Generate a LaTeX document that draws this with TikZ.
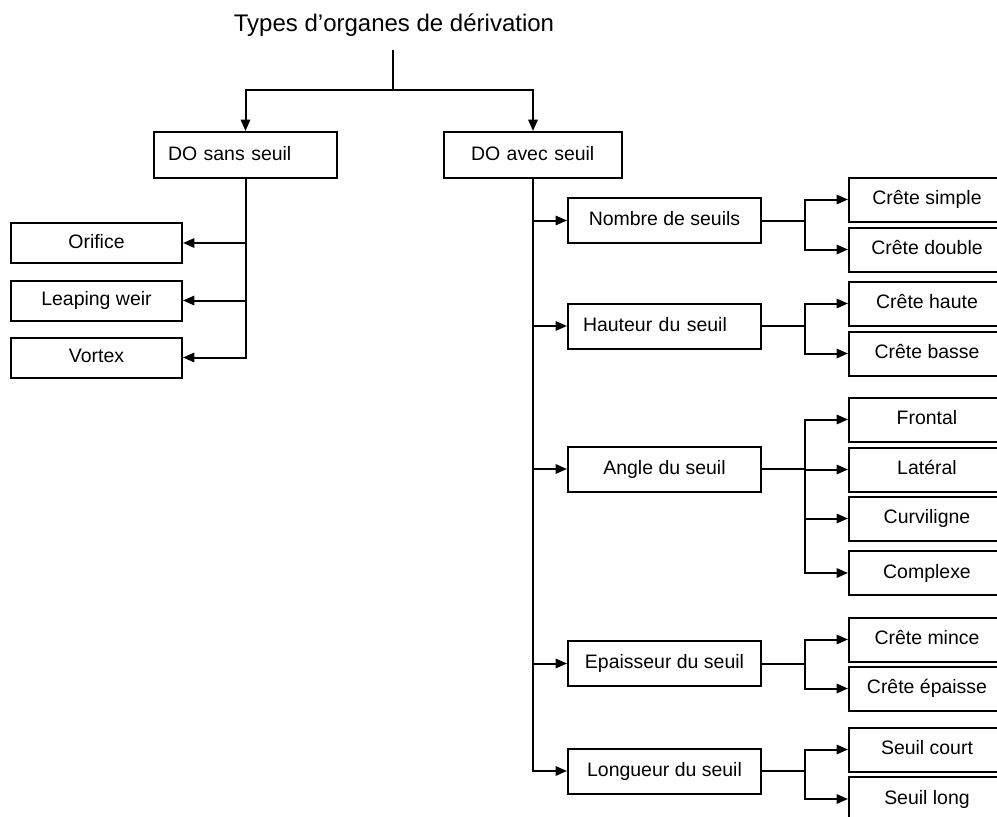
\documentclass[tikz,border=0pt]{standalone}
\usepackage{fontspec}
\setmainfont{Liberation Sans}
\usetikzlibrary{arrows.meta}
\begin{document}
\begin{tikzpicture}[x=0.75pt,y=-0.75pt,
  line width=1.5pt,
  bx/.style 2 args={draw, line width=1.5pt, inner sep=0pt,
    minimum width=#1*0.75pt, minimum height=#2*0.75pt,
    font=\fontsize{14.6pt}{17pt}\selectfont,
    text height=10.5pt, text depth=2.6pt},
  lbx/.style n args={3}{bx={#1}{#2}, inner xsep=#3*0.75pt,
    text width={(#1-2*#3)*0.75pt}, align=left},
  arr/.style={-{Triangle[length=8.5pt,width=7pt]}}]
\useasboundingbox (0,0) rectangle (997,817);

\node[font=\fontsize{18pt}{21pt}\selectfont, anchor=base] (title) at (394,31.7) {Types d’organes de dérivation};
\coordinate (t0) at (393,50);
\coordinate (t1) at (393,90);

\node[lbx={183}{46}{14}] (dosans) at (245.5,155) {DO sans seuil};
\node[lbx={178}{46}{27}] (doavec) at (533,155) {DO avec seuil};

\node[bx={171}{40}] (orifice) at (96.5,243) {Orifice};
\node[bx={171}{40}] (leaping) at (96.5,300.5) {Leaping weir};
\node[bx={171}{40}] (vortex) at (96.5,357.5) {Vortex};

\node[bx={193}{45}] (nombre) at (664.5,220.5) {Nombre de seuils};
\node[lbx={193}{45}{15}] (hauteur) at (664.5,326) {Hauteur du seuil};
\node[bx={193}{45}] (angle) at (664.5,469) {Angle du seuil};
\node[bx={193}{45}] (epais) at (664.5,663.5) {Epaisseur du seuil};
\node[bx={193}{45}] (longueur) at (664.5,771) {Longueur du seuil};

\node[bx={156}{44}] (simple) at (927,199.5) {Crête simple};
\node[bx={156}{44}] (double) at (927,249.5) {Crête double};
\node[bx={156}{44}] (haute) at (927,303.5) {Crête haute};
\node[bx={156}{44}] (basse) at (927,353.5) {Crête basse};
\node[bx={156}{44}] (frontal) at (927,419.5) {Frontal};
\node[bx={156}{44}] (lateral) at (927,469.5) {Latéral};
\node[bx={156}{44}] (curv) at (927,518.5) {Curviligne};
\node[bx={156}{44}] (complexe) at (927,573) {Complexe};
\node[bx={156}{44}] (mince) at (927,639.5) {Crête mince};
\node[bx={156}{44}] (epaisse) at (927,688.5) {Crête épaisse};
\node[bx={156}{44}] (court) at (927,749.5) {Seuil court};
\node[bx={156}{44}] (long) at (927,799) {Seuil long};

\draw (t0) -- (t1);
\draw[arr] (t1) -| (dosans.north);
\draw[arr] (t1) -| (doavec.north);

\draw[arr] (dosans.south) |- (orifice.east);
\draw[arr] (dosans.south) |- (leaping.east);
\draw[arr] (dosans.south) |- (vortex.east);

\draw[arr] (doavec.south) |- (nombre.west);
\draw[arr] (doavec.south) |- (hauteur.west);
\draw[arr] (doavec.south) |- (angle.west);
\draw[arr] (doavec.south) |- (epais.west);
\draw[arr] (doavec.south) |- (longueur.west);

\draw[arr] (nombre.east) -- ++(43,0) |- (simple.west);
\draw[arr] (nombre.east) -- ++(43,0) |- (double.west);
\draw[arr] (hauteur.east) -- ++(43,0) |- (haute.west);
\draw[arr] (hauteur.east) -- ++(43,0) |- (basse.west);
\draw[arr] (angle.east) -- ++(43,0) |- (frontal.west);
\draw[arr] (angle.east) -- ++(43,0) |- (lateral.west);
\draw[arr] (angle.east) -- ++(43,0) |- (curv.west);
\draw[arr] (angle.east) -- ++(43,0) |- (complexe.west);
\draw[arr] (epais.east) -- ++(43,0) |- (mince.west);
\draw[arr] (epais.east) -- ++(43,0) |- (epaisse.west);
\draw[arr] (longueur.east) -- ++(43,0) |- (court.west);
\draw[arr] (longueur.east) -- ++(43,0) |- (long.west);
\end{tikzpicture}
\end{document}
